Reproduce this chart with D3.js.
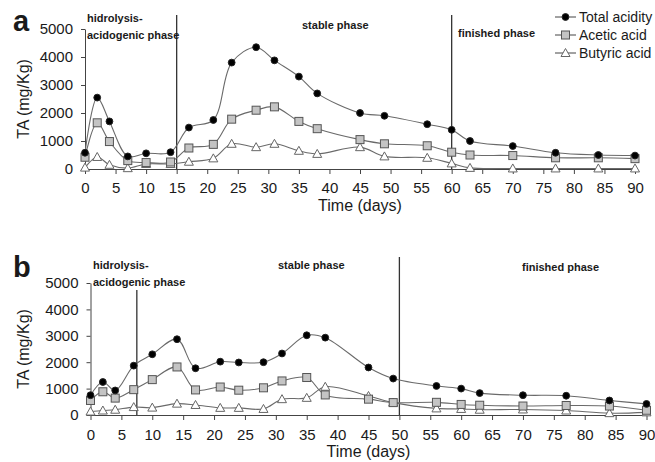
<!DOCTYPE html>
<html>
<head>
<meta charset="utf-8">
<script src="https://cdn.jsdelivr.net/npm/d3@7"></script>
<style>
  body { margin: 0; background: #fff; }
  svg text { font-family: "Liberation Sans", Arial, sans-serif; fill: #1a1a1a; }
</style>
</head>
<body>
<div id="chart"></div>
<script>
// sampling days (same for both runs)
var days = [0, 2, 4, 7, 10, 14, 17, 21, 24, 28, 31, 35, 38, 45, 49, 56, 60, 63, 70, 77, 84, 90];

// run a
var totalA   = [580, 2550, 1700, 450, 560, 600, 1480, 1750, 3800, 4350, 3880, 3300, 2700, 2000, 1900, 1600, 1400, 1000, 820, 580, 500, 480];
var aceticA  = [420, 1650, 980, 300, 230, 250, 750, 880, 1780, 2100, 2220, 1700, 1440, 1050, 900, 830, 600, 500, 480, 400, 400, 370];
var butyricA = [50, 430, 150, 30, 180, 180, 260, 380, 900, 780, 900, 650, 540, 780, 450, 400, 200, 40, 20, 20, 20, 20];

// run b
var totalB   = [750, 1250, 930, 1870, 2300, 2870, 1770, 2020, 1990, 2000, 2330, 3020, 2930, 1800, 1380, 1100, 1000, 830, 750, 730, 550, 420];
var aceticB  = [550, 880, 640, 960, 1340, 1820, 950, 1060, 940, 1030, 1290, 1420, 760, 600, 470, 480, 400, 370, 340, 360, 340, 180];
var butyricB = [130, 170, 200, 300, 280, 430, 380, 270, 270, 230, 600, 650, 1070, 720, 470, 250, 230, 200, 210, 170, 70, 100];

var seriesNames = ["Total acidity", "Acetic acid", "Butyric acid"];
var xTicks = d3.range(0, 91, 5);
var yTicks = [0, 1000, 2000, 3000, 4000, 5000];

// phase boundaries (days)
var phasesA = [15, 60];
var phasesB = [7.5, 50];

var svg = d3.select("#chart").append("svg")
    .attr("width", 655)
    .attr("height", 462);

svg.append("rect").attr("width", 655).attr("height", 462).attr("fill", "#fff");

function marker(g, kind, cx, cy) {
    if (kind === 0) {
        g.append("circle")
            .attr("cx", cx).attr("cy", cy).attr("r", 3.4)
            .attr("fill", "#000").attr("stroke", "#222");
    } else if (kind === 1) {
        g.append("rect")
            .attr("x", cx - 4).attr("y", cy - 4)
            .attr("width", 8).attr("height", 8)
            .attr("fill", "#c4c4c4").attr("stroke", "#555").attr("stroke-width", 1);
    } else {
        g.append("path")
            .attr("d", "M" + cx + "," + (cy - 4.5) + "L" + (cx + 4.5) + "," + (cy + 3.5) + "L" + (cx - 4.5) + "," + (cy + 3.5) + "Z")
            .attr("fill", "#fff").attr("stroke", "#666").attr("stroke-width", 1);
    }
}

function drawPanel(opt) {
    var x = d3.scaleLinear().domain([0, 90]).range([opt.left, opt.right]);
    var y = d3.scaleLinear().domain([0, 5000]).range([opt.bottom, opt.top]);
    var g = svg.append("g");

    // axes
    var xAxis = g.append("g")
        .attr("transform", "translate(0," + opt.bottom + ")")
        .call(d3.axisBottom(x).tickValues(xTicks).tickSize(5).tickSizeOuter(0).tickPadding(opt.xPad));
    var yAxis = g.append("g")
        .attr("transform", "translate(" + opt.left + ",0)")
        .call(d3.axisLeft(y).tickValues(yTicks).tickFormat(d3.format("d")).tickSize(4).tickSizeOuter(0).tickPadding(8));
    [xAxis, yAxis].forEach(function(a) {
        a.select(".domain").attr("stroke", "#444");
        a.selectAll(".tick line").attr("stroke", "#444");
        a.selectAll(".tick text")
            .attr("fill", "#1a1a1a")
            .style("font-size", "15px")
            .style("font-family", "'Liberation Sans', Arial, sans-serif");
    });

    g.append("text")
        .attr("x", (opt.left + opt.right) / 2)
        .attr("y", opt.bottom + 42)
        .attr("text-anchor", "middle")
        .style("font-size", "16px")
        .text("Time (days)");

    g.append("text")
        .attr("transform", "translate(29," + (opt.top + opt.bottom) / 2 + ") rotate(-90)")
        .attr("text-anchor", "middle")
        .style("font-size", "16px")
        .text("TA (mg/Kg)");

    g.append("text")
        .attr("x", 13).attr("y", opt.letterY)
        .style("font-size", "29px")
        .style("font-weight", "bold")
        .text(opt.letter);

    // phase separators
    opt.phases.forEach(function(p, i) {
        g.append("line")
            .attr("x1", x(p)).attr("x2", x(p))
            .attr("y1", opt.phaseTops[i]).attr("y2", opt.bottom)
            .attr("stroke", "#333").attr("stroke-width", 1.3);
    });

    opt.labels.forEach(function(l) {
        g.append("text")
            .attr("x", l[0]).attr("y", l[1])
            .style("font-size", "11px")
            .style("font-weight", "bold")
            .text(l[2]);
    });

    var line = d3.line()
        .x(function(d) { return x(d[0]); })
        .y(function(d) { return y(d[1]); })
        .curve(d3.curveCatmullRom.alpha(0.5));

    // draw back to front: butyric, acetic, total
    [2, 1, 0].forEach(function(k) {
        var pts = days.map(function(d, i) { return [d, opt.series[k][i]]; });
        g.append("path")
            .attr("d", line(pts))
            .attr("fill", "none")
            .attr("stroke", "#6a6a6a")
            .attr("stroke-width", 1.1);
        pts.forEach(function(p) {
            marker(g, k, x(p[0]), y(p[1]));
        });
    });
}

drawPanel({
    letter: "a", letterY: 31,
    left: 85, right: 635, top: 29, bottom: 169, xPad: 8,
    series: [totalA, aceticA, butyricA],
    phases: phasesA, phaseTops: [15, 15],
    labels: [[87, 22, "hidrolysis-"], [87, 39, "acidogenic phase"], [302, 29, "stable phase"], [458, 37, "finished phase"]]
});

drawPanel({
    letter: "b", letterY: 277,
    left: 90.5, right: 646.5, top: 283, bottom: 415, xPad: 9,
    series: [totalB, aceticB, butyricB],
    phases: phasesB, phaseTops: [290, 257],
    labels: [[93, 269, "hidrolysis-"], [93, 286, "acidogenic phase"], [278, 269, "stable phase"], [522, 271, "finished phase"]]
});

// legend (panel a)
var legend = svg.append("g");
seriesNames.forEach(function(name, i) {
    var cy = 17 + i * 18;
    legend.append("line")
        .attr("x1", 555).attr("x2", 576)
        .attr("y1", cy).attr("y2", cy)
        .attr("stroke", "#444");
    marker(legend, i, 565.5, cy);
    legend.append("text")
        .attr("x", 579).attr("y", cy + 5)
        .style("font-size", "14px")
        .text(name);
});
</script>
</body>
</html>
